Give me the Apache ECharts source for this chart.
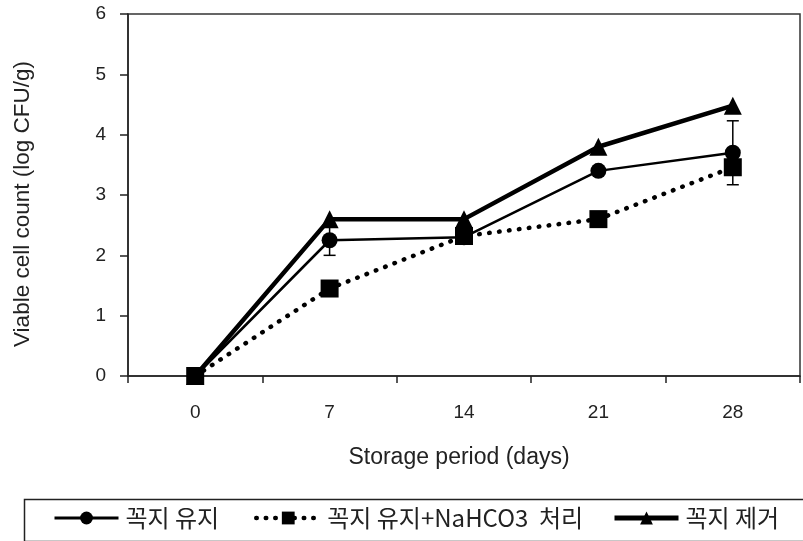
<!DOCTYPE html>
<html>
<head>
<meta charset="utf-8">
<script src="https://cdn.jsdelivr.net/npm/echarts@6/dist/echarts.min.js"></script>
<style>
  html, body { margin: 0; padding: 0; background: #fff; }
  #chart { width: 803px; height: 541px; }
</style>
</head>
<body>
<div id="chart"></div>
<script>
// Storage period (days) and viable cell counts (log CFU/g)
const days = ['0', '7', '14', '21', '28'];
const seriesNames = ['꼭지 유지', '꼭지 유지+NaHCO3  처리', '꼭지 제거'];
const stemKept = [0, 2.25, 2.3, 3.4, 3.7];
const stemKeptErr = [0, 0.25, 0, 0, 0.53];
const stemKeptNaHCO3 = [0, 1.45, 2.32, 2.6, 3.46];
const stemRemoved = [0, 2.6, 2.6, 3.8, 4.48];
const yTicks = { min: 0, max: 6, step: 1 };

const chart = echarts.init(document.getElementById('chart'), null, { renderer: 'canvas' });

const latin = '"Liberation Sans", Arial, sans-serif';
const korean = '"Noto Sans CJK KR", "Liberation Sans", sans-serif';

// Vertical error bars with short caps, drawn in data space
const errorBars = days.map((d, i) => [i, stemKept[i] - stemKeptErr[i], stemKept[i] + stemKeptErr[i]])
  .filter((_, i) => stemKeptErr[i] > 0);

function renderErrorBar(params, api) {
  const lo = api.coord([api.value(0), api.value(1)]);
  const hi = api.coord([api.value(0), api.value(2)]);
  const cap = 6;
  const style = { stroke: '#000', lineWidth: 1.5 };
  return {
    type: 'group',
    children: [
      { type: 'line', shape: { x1: hi[0], y1: hi[1], x2: lo[0], y2: lo[1] }, style },
      { type: 'line', shape: { x1: hi[0] - cap, y1: hi[1], x2: hi[0] + cap, y2: hi[1] }, style },
      { type: 'line', shape: { x1: lo[0] - cap, y1: lo[1], x2: lo[0] + cap, y2: lo[1] }, style }
    ]
  };
}

const legendText = { fontFamily: korean, fontSize: 24, color: '#222', padding: [0, 0, 0, 2] };
function legendAt(name, left, lineStyle) {
  return {
    data: [name], left: left, top: 506, padding: 0,
    itemWidth: 64, itemHeight: 16, itemGap: 0,
    textStyle: legendText, selectedMode: false,
    lineStyle: lineStyle
  };
}

chart.setOption({
  animation: false,
  backgroundColor: '#fff',
  grid: {
    left: 128, right: 3, top: 14, bottom: 165,
    show: true, borderColor: '#333', borderWidth: 1.5, backgroundColor: 'transparent'
  },
  legend: [
    legendAt(seriesNames[0], 53, { width: 3 }),
    legendAt(seriesNames[1], 254, { width: 4.5, type: [0.5, 9], cap: 'round' }),
    legendAt(seriesNames[2], 612, { width: 5 })
  ],
  graphic: [{
    type: 'rect', left: 22, top: 497,
    shape: { width: 800, height: 42 },
    style: { fill: 'none', stroke: '#222', lineWidth: 1.5 }, z: 0
  }],
  xAxis: {
    type: 'category', data: days, boundaryGap: true,
    name: 'Storage period (days)', nameLocation: 'middle', nameGap: 70,
    nameTextStyle: { fontFamily: latin, fontSize: 23, color: '#222', padding: [0, 10, 0, 0] },
    axisLine: { lineStyle: { color: '#222', width: 1.5 } },
    axisTick: { show: true, length: 7, lineStyle: { color: '#222', width: 1.5 } },
    axisLabel: { margin: 27, fontFamily: latin, fontSize: 19, color: '#222' },
    splitLine: { show: false }
  },
  yAxis: {
    type: 'value', min: yTicks.min, max: yTicks.max, interval: yTicks.step,
    name: 'Viable cell count (log CFU/g)', nameLocation: 'middle', nameGap: 94,
    nameTextStyle: { fontFamily: latin, fontSize: 22.5, color: '#222', padding: [0, 18, 0, 0] },
    axisLine: { show: true, lineStyle: { color: '#222', width: 1.5 } },
    axisTick: { show: true, length: 8, lineStyle: { color: '#222', width: 1.5 } },
    axisLabel: { margin: 22, fontFamily: latin, fontSize: 19, color: '#222' },
    splitLine: { show: false }
  },
  series: [
    {
      name: seriesNames[2], type: 'line', data: stemRemoved,
      symbol: 'triangle', symbolSize: 18, z: 3,
      itemStyle: { color: '#000' },
      lineStyle: { color: '#000', width: 4.5 }
    },
    {
      name: seriesNames[0], type: 'line', data: stemKept,
      symbol: 'circle', symbolSize: 16, z: 4,
      itemStyle: { color: '#000' },
      lineStyle: { color: '#000', width: 2.5 }
    },
    {
      name: 'error', type: 'custom', data: errorBars, renderItem: renderErrorBar,
      encode: { x: 0, y: [1, 2] }, z: 5, silent: true
    },
    {
      name: seriesNames[1], type: 'line', data: stemKeptNaHCO3,
      symbol: 'rect', symbolSize: 18, z: 6,
      itemStyle: { color: '#000' },
      lineStyle: { color: '#000', width: 4.5, type: [0.5, 9.5], cap: 'round' }
    }
  ]
});
</script>
</body>
</html>
